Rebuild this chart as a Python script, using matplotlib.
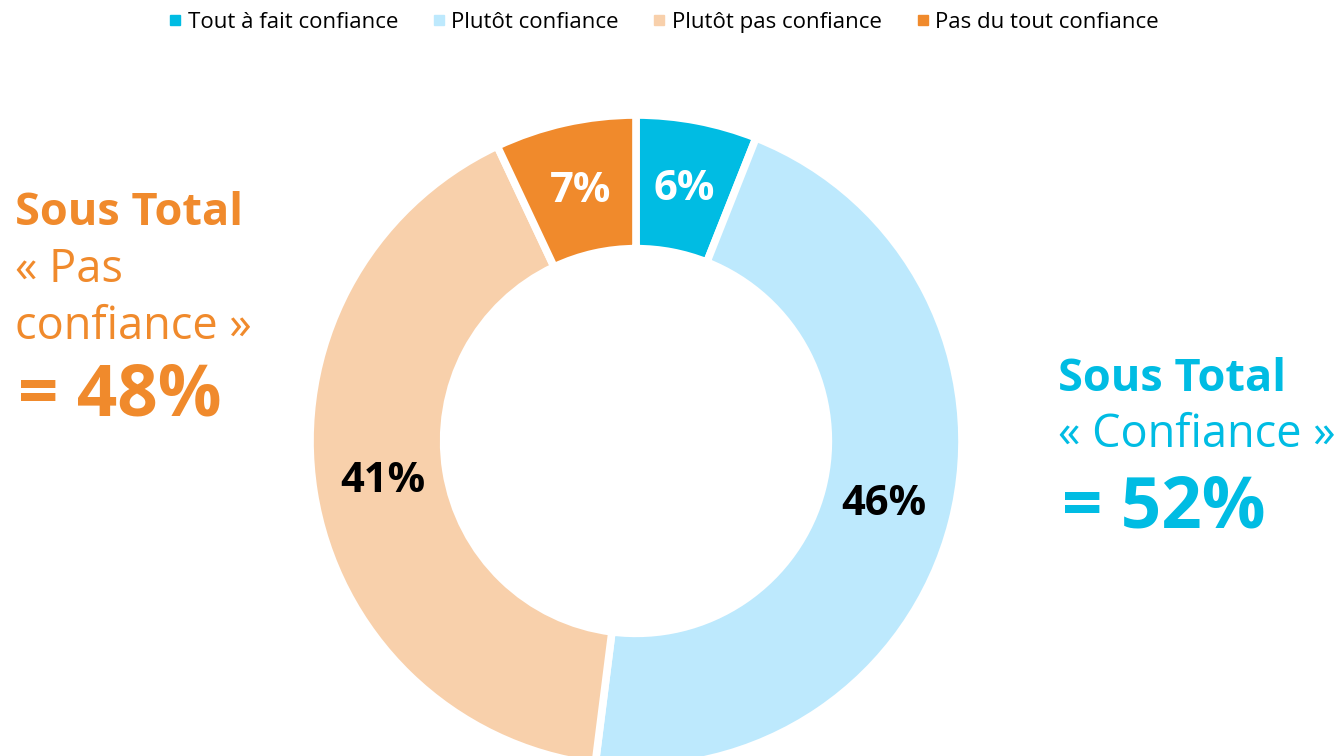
import matplotlib
matplotlib.use("Agg")
import matplotlib.pyplot as plt
from matplotlib.lines import Line2D

plt.rcParams['font.family'] = ['Open Sans', 'DejaVu Sans']

categories = ["Tout à fait confiance", "Plutôt confiance", "Plutôt pas confiance", "Pas du tout confiance"]
values = [6, 46, 41, 7]
colors = ["#00BCE3", "#BDE9FD", "#F8D0AB", "#F08A2C"]
label_colors = ["white", "black", "black", "white"]
subtotal_pas = 48
subtotal_conf = 52
ORANGE = "#F08A2C"
CYAN = "#00BCE3"

W, H = 1344, 756
fig = plt.figure(figsize=(W / 100, H / 100), dpi=100)

cx, cy, r = 636, 441, 326
ax = fig.add_axes([(cx - r) / W, (H - cy - r) / H, 2 * r / W, 2 * r / H])
wedges, texts, autotexts = ax.pie(
    values, colors=colors, startangle=90, counterclock=False, radius=1,
    autopct=lambda p: f"{p:.0f}%", pctdistance=0.785,
    wedgeprops=dict(width=0.41, edgecolor="white", linewidth=5.5),
    textprops=dict(fontsize=30, fontweight="bold"))
for t, c in zip(autotexts, label_colors):
    t.set_color(c)
ax.set_xlim(-1, 1)
ax.set_ylim(-1, 1)
ax.set_aspect('auto')
ax.axis('off')
for w in wedges:
    w.set_clip_on(False)

# Legend
handles = [Line2D([], [], marker='s', linestyle='none', markersize=6.5,
                  markerfacecolor=c, markeredgecolor=c) for c in colors]
fig.legend(handles, categories, loc='upper center', bbox_to_anchor=(0.494, 1.011),
           ncol=4, frameon=False, fontsize=16, handlelength=0.55,
           handletextpad=0.3, columnspacing=1.55)

def fy(y):
    return 1 - y / H

# Left annotation
fig.text(15 / W, fy(225), "Sous Total", color=ORANGE, fontsize=32.5, fontweight='bold', va='baseline', ha='left')
fig.text(15 / W, fy(282), "« Pas", color=ORANGE, fontsize=32.5, va='baseline', ha='left')
fig.text(15 / W, fy(339), "confiance »", color=ORANGE, fontsize=32.5, va='baseline', ha='left')
fig.text(18 / W, fy(416), f"= {subtotal_pas}%", color=ORANGE, fontsize=51, fontweight='bold', va='baseline', ha='left')

# Right annotation
fig.text(1058 / W, fy(391), "Sous Total", color=CYAN, fontsize=32.5, fontweight='bold', va='baseline', ha='left')
fig.text(1058 / W, fy(447), "« Confiance »", color=CYAN, fontsize=32.5, va='baseline', ha='left')
fig.text(1062 / W, fy(527), f"= {subtotal_conf}%", color=CYAN, fontsize=51, fontweight='bold', va='baseline', ha='left')

fig.savefig("out.png", dpi=100, facecolor="white")
